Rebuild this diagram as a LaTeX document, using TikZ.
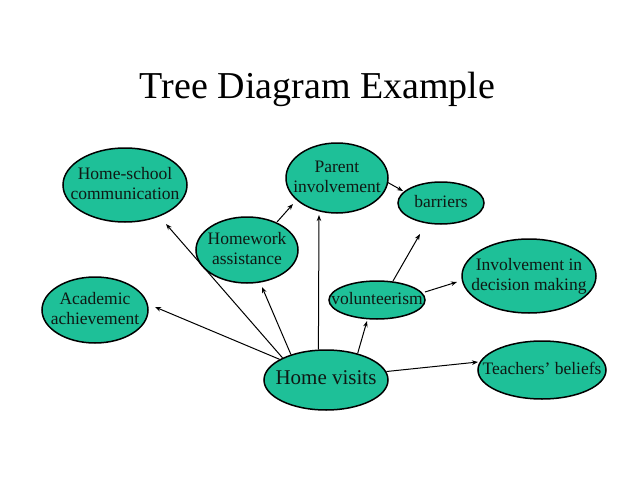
\documentclass[tikz,border=0pt]{standalone}
\usepackage{fontspec}
\setmainfont{Liberation Serif}
\usetikzlibrary{shapes.geometric,arrows.meta,calc}
\definecolor{bubble}{RGB}{30,192,152}
\definecolor{inktext}{RGB}{15,25,20}
\newcommand{\bubtext}[1]{\makebox[0pt]{\begin{tabular}{@{}c@{}}#1\end{tabular}}}
\tikzset{
  bub/.style={ellipse, draw=black, line width=1.5pt, fill=bubble, inner sep=0pt,
    text=inktext, font=\fontsize{17.5}{20}\selectfont},
  arr/.style={line width=1pt, -{Stealth[length=6pt,width=4.5pt]}},
}
\begin{document}
\begin{tikzpicture}[x=1pt,y=-1pt]
\useasboundingbox (0,0) rectangle (638,479);
\node[anchor=base, font=\fontsize{38}{44}\selectfont] (title) at (317.5,98) {Tree Diagram Example};

\node[bub, minimum width=124pt, minimum height=74pt] (hs) at (125,185) {\bubtext{Home-school\\communication}};
\node[bub, minimum width=102pt, minimum height=70pt] (pi) at (337,178) {\bubtext{Parent\\involvement}};
\node[bub, minimum width=102pt, minimum height=66pt] (hw) at (247,250) {\bubtext{Homework\\assistance}};
\node[bub, minimum width=106pt, minimum height=66pt] (aa) at (95,310) {\bubtext{Academic\\achievement}};
\node[bub, minimum width=86pt, minimum height=42pt] (ba) at (441,203) {\bubtext{barriers}};
\node[bub, minimum width=134pt, minimum height=74pt] (idm) at (529,276) {\bubtext{Involvement in\\decision making}};
\node[bub, minimum width=96pt, minimum height=38pt] (vo) at (377,300) {\bubtext{volunteerism}};
\node[bub, minimum width=124pt, minimum height=60pt, font=\fontsize{21}{24}\selectfont] (hv) at (326,380) {\bubtext{Home visits}};
\node[bub, minimum width=128pt, minimum height=58pt] (tb) at (542,370) {\bubtext{Teachers’ beliefs}};

\draw[arr] (hv.156) -- ($(aa.center)+(60,-3)$);
\draw[arr] (hv.153) -- ($(hs.center)+(41,39)$);
\draw[arr] (hv.144) -- ($(hw.center)+(15,37)$);
\draw[arr] (hv.104) -- ($(pi.center)+(-18,37)$);
\draw[arr] (hv.40) -- ($(vo.center)+(-10,21)$);
\draw[arr] (hv.8) -- ($(tb.center)+(-64,-8)$);
\draw[arr] ($(hw.center)+(30,-28)$) -- ($(pi.center)+(-44,26)$);
\draw[arr] ($(pi.center)+(50,4)$) -- ($(ba.center)+(-38,-12)$);
\draw[arr] ($(vo.center)+(16,-19)$) -- ($(ba.center)+(-21,31)$);
\draw[arr] ($(vo.center)+(48,-8)$) -- ($(idm.center)+(-72,6)$);
\end{tikzpicture}
\end{document}
